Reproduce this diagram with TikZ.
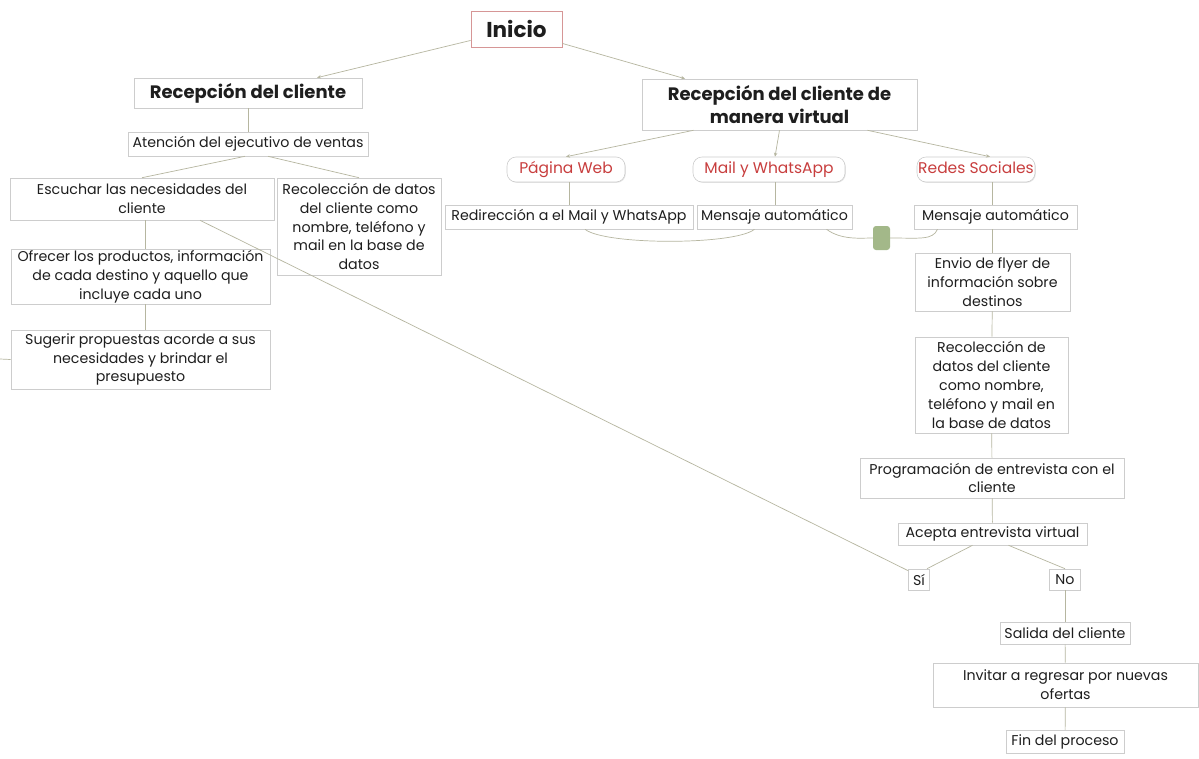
\documentclass[tikz,border=0pt]{standalone}
\usepackage{fontspec}
\setmainfont{Poppins}
\usetikzlibrary{arrows.meta,calc,shadows}
\definecolor{lnc}{RGB}{182,182,160}
\definecolor{bdc}{RGB}{205,205,205}
\definecolor{redt}{RGB}{200,62,62}
\definecolor{inib}{RGB}{214,150,150}
\definecolor{grn}{RGB}{163,184,137}
\definecolor{txt}{RGB}{30,30,30}
\begin{document}
\begin{tikzpicture}[x=1pt,y=-1pt,
  box/.style={draw=bdc, line width=0.6pt, fill=white, align=center, inner sep=0pt, text=txt,
    drop shadow={shadow xshift=0.8pt, shadow yshift=-0.8pt, opacity=0.10, fill=black},
    font=\fontsize{14.2}{18.8}\selectfont},
  pill/.style={box, rounded corners=9pt, text=redt, text height=11pt, text depth=3pt, font=\fontsize{15.5}{17}\selectfont},
  ttl/.style={box, font=\bfseries\fontsize{18}{23}\selectfont},
  ln/.style={draw=lnc, line width=0.7pt},
  arr/.style={ln, -{Stealth[length=4pt,width=3.5pt]}}]
\path[use as bounding box, fill=white] (0,0) rectangle (1199,758);

% nodes
\node[box, draw=inib, line width=0.9pt, font=\bfseries\fontsize{21.5}{24}\selectfont, minimum width=91, minimum height=36] (inicio) at (516.5,29) {Inicio};
\node[ttl, minimum width=228, minimum height=30] (rc) at (248,93) {Recepción del cliente};
\node[ttl, minimum width=275, minimum height=51] (rv) at (779.5,104.5) {Recepción del cliente de\\manera virtual};
\node[box, minimum width=240, minimum height=24] (aten) at (248,144) {Atención del ejecutivo de ventas};
\node[box, minimum width=264, minimum height=42] (esc) at (142,199) {Escuchar las necesidades del\\cliente};
\node[box, minimum width=164, minimum height=97] (recl) at (359,226.5) {Recolección de datos\\del cliente como\\nombre, teléfono y\\mail en la base de\\datos};
\node[box, minimum width=259, minimum height=55] (ofr) at (140.5,276.5) {Ofrecer los productos, información\\de cada destino y aquello que\\incluye cada uno};
\node[box, minimum width=259, minimum height=59] (sug) at (140.5,359.5) {Sugerir propuestas acorde a sus\\necesidades y brindar el\\presupuesto};

\node[pill, minimum width=118, minimum height=25] (pw) at (566,169.5) {Página Web};
\node[pill, minimum width=152, minimum height=25] (mw) at (769,169.5) {Mail y WhatsApp};
\node[pill, minimum width=118, minimum height=25] (rs) at (976,169.5) {Redes Sociales};

\node[box, minimum width=248, minimum height=24] (red) at (569,217) {Redirección a el Mail y WhatsApp};
\node[box, minimum width=155, minimum height=24] (men1) at (774.5,217) {Mensaje automático};
\node[box, minimum width=163, minimum height=24] (men2) at (995.5,217) {Mensaje automático};
\node[draw=none, fill=grn, rounded corners=3pt, minimum width=17, minimum height=24, inner sep=0pt] (green) at (881.5,238) {};

\node[box, minimum width=155, minimum height=58] (env) at (992.5,282) {Envio de flyer de\\información sobre\\destinos};
\node[box, minimum width=153, minimum height=96] (recr) at (991.5,385) {Recolección de\\datos del cliente\\como nombre,\\teléfono y mail en\\la base de datos};
\node[box, minimum width=264, minimum height=40] (prog) at (992,478) {Programación de entrevista con el\\cliente};
\node[box, minimum width=189, minimum height=22] (acep) at (992.5,534) {Acepta entrevista virtual};
\node[box, minimum width=21, minimum height=21] (si) at (919,579.5) {Sí};
\node[box, minimum width=31, minimum height=21] (no) at (1065,579.5) {No};
\node[box, minimum width=130, minimum height=22] (sal) at (1065,633) {Salida del cliente};
\node[box, minimum width=265, minimum height=44] (inv) at (1065.5,685) {Invitar a regresar por nuevas\\ofertas};
\node[box, minimum width=118, minimum height=23] (fin) at (1065,742) {Fin del proceso};

\coordinate (lft) at (0,359);

% connectors
\draw[arr] ($(inicio.south west)+(0,-7)$) -- ($(rc.north)+(69,0)$);
\draw[arr] ($(inicio.south east)+(0,-4)$) -- ($(rv.north)+(-94.5,0)$);
\draw[ln] (rc) -- (aten);
\draw[ln] ($(aten.south)+(-3,0)$) -- (esc.north);
\draw[ln] ($(aten.south)+(20,0)$) -- (recl.north);
\draw[ln] ($(esc.south)+(3,0)$) -- ($(ofr.north)+(4.5,0)$);
\draw[ln] ($(ofr.south)+(4.5,0)$) -- ($(sug.north)+(4.5,0)$);
\draw[ln] (lft) -- (sug.west);
\draw[ln] ($(esc.south)+(58,0)$) -- ($(si.north west)+(0,2)$);

\draw[arr] ($(rv.south)+(-86,0)$) -- (pw.north);
\draw[arr] ($(rv.south)+(0,0)$) -- ($(mw.north)+(6,0)$);
\draw[arr] ($(rv.south)+(88,0)$) -- ($(rs.north)+(14,0)$);
\draw[ln] ($(pw.south)+(3,0)$) -- (red.north);
\draw[ln] ($(mw.south)+(6,0)$) -- ($(men1.north)+(0.5,0)$);
\draw[ln] ($(rs.south)+(16,0)$) -- ($(men2.north)+(-3.5,0)$);

\draw[ln] ($(red.south)+(16,0)$) .. controls +(20,16) and +(-20,16) .. ($(men1.south)+(-20,0)$);
\draw[ln] ($(men1.south)+(52,0)$) .. controls +(15,11) and +(-12,0) .. (green.west);
\draw[ln] (green.east) .. controls +(30,0) and +(-5,11) .. ($(men2.south)+(-58,0)$);

\draw[ln] (men2.south -| env.north) -- (env.north);
\draw[ln] (env) -- (recr);
\draw[ln] (recr) -- (prog);
\draw[ln] (prog) -- (acep);
\draw[ln] ($(acep.south)+(-20,0)$) -- ($(si.north)+(8,0)$);
\draw[ln] ($(acep.south)+(16,0)$) -- (no.north);
\draw[ln] (no) -- (sal);
\draw[ln] (sal) -- (inv);
\draw[ln] (inv) -- (fin);
\end{tikzpicture}
\end{document}
